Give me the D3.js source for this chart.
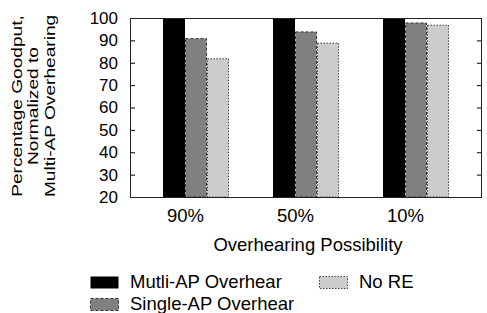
<!DOCTYPE html>
<html>
<head>
<meta charset="utf-8">
<script src="https://cdn.jsdelivr.net/npm/d3@7"></script>
<style>
  body { margin: 0; background: #fff; }
  svg { display: block; font-family: "Liberation Sans", Arial, sans-serif; }
  text { fill: #000; }
</style>
</head>
<body>
<div id="chart"></div>
<script>
// data
const categories = ["90%", "50%", "10%"]
const multiAP = [100, 100, 100]
const singleAP = [91, 94, 98]
const noRE = [82, 89, 97]
const yTicks = [20, 30, 40, 50, 60, 70, 80, 90, 100]

const series = [
    { name: "Mutli-AP Overhear", values: multiAP, fill: "#000", stroke: "none", dash: null },
    { name: "Single-AP Overhear", values: singleAP, fill: "#808080", stroke: "#333", dash: "3,2" },
    { name: "No RE", values: noRE, fill: "#cccccc", stroke: "#444", dash: "1.5,1.5" },
]

const W = 487, H = 313
const margin = { left: 130, right: 5, top: 18, bottom: 116 }
const width = W - margin.left - margin.right
const height = H - margin.top - margin.bottom
const fontSize = "18.5px"

const svg = d3.select("#chart")
    .append("svg")
    .attr("width", W)
    .attr("height", H)

const g = svg.append("g")
    .attr("transform", `translate(${margin.left}, ${margin.top})`)

// group i sits at i, bars are 0.2 wide, tick at boundary of first and second bar
const x = d3.scaleLinear().domain([-0.5, 2.7]).range([0, width])
const y = d3.scaleLinear().domain([20, 100]).range([height, 0])
const barW = 0.2
const offsets = [-0.2, 0, 0.2]

/* BARS */
series.forEach((s, si) => {
    const inset = s.stroke === "none" ? 0 : 0.5
    g.append("g")
        .selectAll("rect")
        .data(s.values)
        .join("rect")
        .attr("x", (d, i) => x(i + offsets[si]) + inset)
        .attr("y", d => y(d) + inset)
        .attr("width", x(barW) - x(0) - 2 * inset)
        .attr("height", d => y(20) - y(d) - inset)
        .attr("fill", s.fill)
        .attr("stroke", s.stroke)
        .attr("stroke-width", 1)
        .attr("stroke-dasharray", s.dash)
})

/* AXES */
g.append("g")
    .style("font-size", "17px")
    .call(d3.axisLeft(y).tickValues(yTicks).tickSize(-5).tickPadding(12))
    .call(a => a.select(".domain").remove())

g.append("g")
    .attr("transform", `translate(${width}, 0)`)
    .call(d3.axisRight(y).tickValues(yTicks).tickSize(-5).tickFormat(""))
    .call(a => a.select(".domain").remove())

g.append("g")
    .attr("transform", `translate(0, ${height})`)
    .style("font-size", fontSize)
    .call(d3.axisBottom(x).tickValues(d3.range(categories.length))
        .tickFormat(i => categories[i]).tickSize(0).tickPadding(12))
    .call(a => a.select(".domain").remove())

g.append("rect")
    .attr("x", 0.5).attr("y", 0.5)
    .attr("width", width - 1).attr("height", height)
    .attr("fill", "none")
    .attr("stroke", "#222")
    .attr("stroke-width", 1)

/* LABELS */
svg.append("text")
    .attr("x", 308).attr("y", 251)
    .attr("text-anchor", "middle")
    .style("font-size", fontSize)
    .text("Overhearing Possibility")

// the reference's rotated label is long but narrow, so stretch it along the text
const yLabel = ["Percentage Goodput,", "Normalized to", "Multi-AP Overhearing"]
svg.append("g")
    .attr("transform", "translate(0, 106) rotate(-90) scale(1.25, 1)")
    .selectAll("text")
    .data(yLabel)
    .join("text")
    .attr("x", 0)
    .attr("y", (d, i) => 22 + i * 16.5)
    .attr("text-anchor", "middle")
    .style("font-size", "15.3px")
    .text(d => d)

/* LEGEND */
const legendPos = [[90, 276], [90, 298], [319, 276]]
const legend = svg.append("g")
    .selectAll("g")
    .data(series)
    .join("g")
    .attr("transform", (d, i) => `translate(${legendPos[i][0]}, ${legendPos[i][1]})`)

legend.append("rect")
    .attr("x", 0.5).attr("y", 0.5)
    .attr("width", 28).attr("height", 12)
    .attr("fill", d => d.fill)
    .attr("stroke", d => d.stroke)
    .attr("stroke-dasharray", d => d.dash)

legend.append("text")
    .attr("x", 40).attr("y", 12)
    .style("font-size", fontSize)
    .text(d => d.name)
</script>
</body>
</html>
